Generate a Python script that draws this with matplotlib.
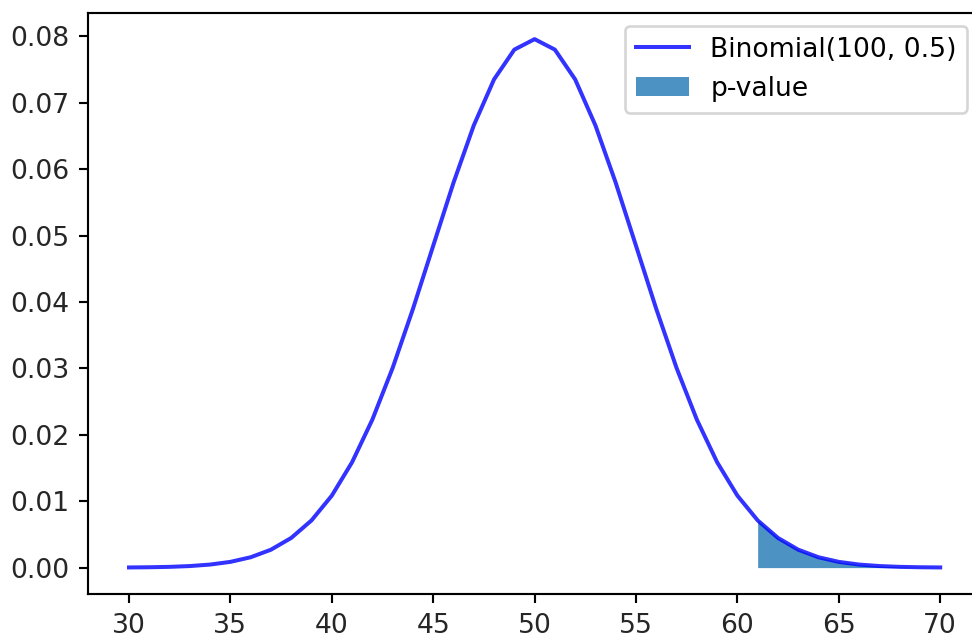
import numpy as np
import matplotlib.pyplot as plt

# Binomial(100, 0.5) probabilities, k = 30..70
k = list(range(30, 71))
pmf_left = [0.00002317, 0.00005261, 0.0001131, 0.0002326, 0.0004581,
            0.0008638, 0.001560, 0.002698, 0.004472, 0.007111,
            0.01084, 0.01587, 0.02229, 0.03007, 0.03895,
            0.04847, 0.05796, 0.06659, 0.07353, 0.07801]
pmf_peak = [0.07959]
pmf = pmf_left + pmf_peak + pmf_left[::-1]
cutoff = 61

fig = plt.figure(figsize=(972 / 192, 636 / 192), dpi=192)
# the right edge of the axes sits just past the picture, as in the source image
ax = fig.add_axes([0.091, 0.066, 0.918, 0.914])

x = np.array(k)
y = np.array(pmf)
ax.plot(x, y, color='blue', alpha=0.8, lw=1.5, label='Binomial(100, 0.5)')
mask = x >= cutoff
ax.fill_between(x[mask], y[mask], color='C0', alpha=0.8, lw=0,
                label='p-value')

ax.set_yticks(np.arange(0, 0.081, 0.01))
ax.tick_params(labelcolor='#262626')
ax.legend(loc='upper right')

fig.savefig('out.png', dpi=192)
